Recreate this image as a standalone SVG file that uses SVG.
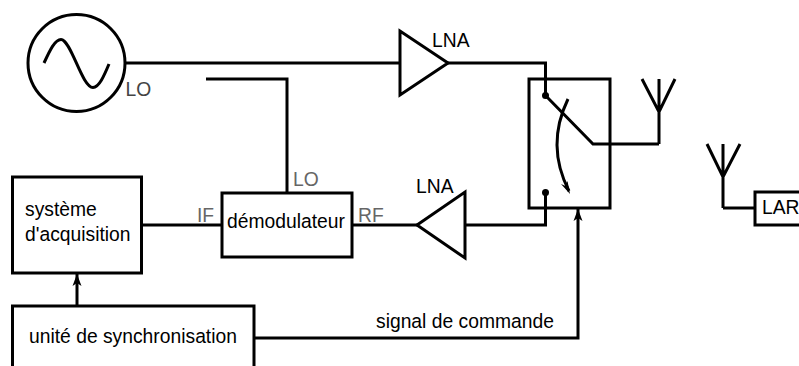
<svg xmlns="http://www.w3.org/2000/svg" width="799" height="366" viewBox="0 0 799 366">
<style>
.s{fill:none;stroke:#000;stroke-width:3}
.t{fill:#000;font-family:"Liberation Sans",Arial,sans-serif;font-size:19.3px}
.g{fill:#666;font-family:"Liberation Sans",Arial,sans-serif;font-size:19.3px}
.d{fill:#000}
</style>
<defs>
<marker id="ah" markerUnits="userSpaceOnUse" markerWidth="14" markerHeight="14" refX="13" refY="7" orient="auto"><path d="M1 2.500L13 7L1 11.500L4 7Z" fill="#000"/></marker>
</defs>
<rect width="799" height="366" fill="#fff"/>
<g id="connectors">
<path class="s" d="M126 63H400"/>
<path class="s" d="M448 63H545.500V95"/>
<path class="s" d="M465 225H545.500V192"/>
<path class="s" d="M352 225H417"/>
<path class="s" d="M141 225H222"/>
<path class="s" d="M287 193V79H206"/>
<path class="s" d="M254 338H578V209" marker-end="url(#ah)"/>
<path class="s" d="M77 306V274" marker-end="url(#ah)"/>
</g>
<g id="oscillateur">
<circle class="s" cx="76.500" cy="63" r="48.500"/>
<path class="s" d="M44 63C50 50 55 39.500 61 39.500C71 39.500 82 87.500 93 87.500C99 87.500 104 76 109 64"/>
<text class="g" x="125.500" y="96" style="fill:#444">LO</text>
</g>
<g id="lna-haut">
<path class="s" d="M400 31V95L448 63Z"/>
<text class="t" x="432" y="46.500">LNA</text>
</g>
<g id="lna-bas">
<path class="s" d="M465 192V258L417 225Z"/>
<text class="t" x="416" y="193">LNA</text>
</g>
<g id="commutateur">
<rect class="s" x="529" y="79" width="81" height="129"/>
<circle class="d" cx="545.500" cy="95.500" r="3.500"/>
<circle class="d" cx="545.500" cy="192.500" r="3.500"/>
<path class="s" d="M545.500 95.500L593 144H659"/>
<path class="s" d="M568 99C553 130 553 160 569 191"/>
<path class="d" d="M570 194L561 184L565.500 186L567.500 181Z"/>
</g>
<g id="antenne-1">
<path class="s" d="M659 144V79M642 79L659 112L675 79"/>
</g>
<g id="antenne-2">
<path class="s" d="M723 208V144M707 144L723 177L740 144"/>
<path class="s" d="M723 208H755"/>
</g>
<g id="lar">
<path class="s" d="M801 192H755V225H801"/>
<text class="t" x="762" y="214">LAR</text>
</g>
<g id="demodulateur">
<rect class="s" x="222" y="193" width="130" height="64"/>
<text class="t" x="227" y="228">démodulateur</text>
<text class="g" x="293" y="186">LO</text>
<text class="g" x="197" y="222">IF</text>
<text class="g" x="358" y="222">RF</text>
</g>
<g id="systeme-acquisition">
<rect class="s" x="12.500" y="177" width="129" height="96"/>
<text class="t" x="25" y="216">système</text>
<text class="t" x="25" y="241">d'acquisition</text>
</g>
<g id="unite-synchronisation">
<path class="s" d="M12.500 368V306H254V368"/>
<text class="t" x="29" y="343">unité de synchronisation</text>
</g>
<text class="t" x="376" y="328">signal de commande</text>
</svg>
